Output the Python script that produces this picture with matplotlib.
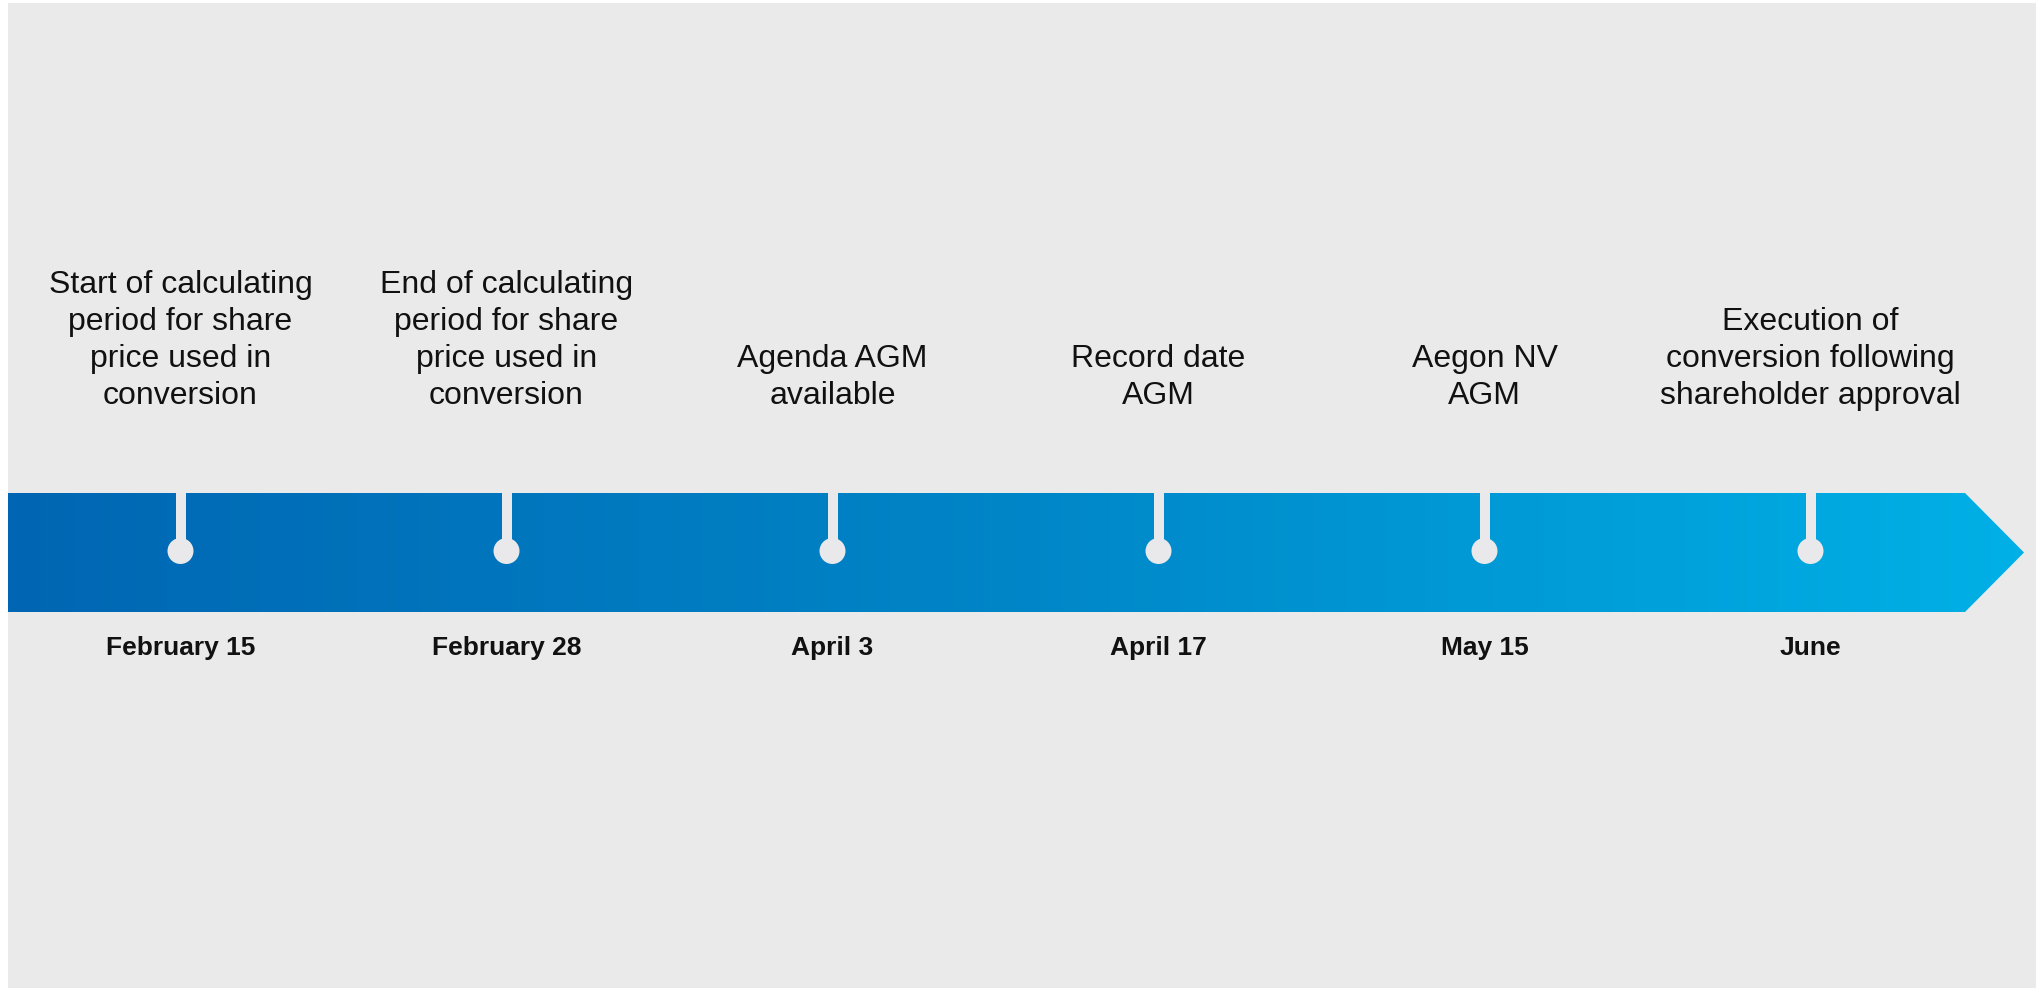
import numpy as np
import matplotlib
matplotlib.use("Agg")
import matplotlib.pyplot as plt
from matplotlib.patches import Polygon, Rectangle
from matplotlib.colors import LinearSegmentedColormap

# ---- data ----
dates = ["February 15", "February 28", "April 3", "April 17", "May 15", "June"]
events = [
    "Start of calculating\nperiod for share\nprice used in\nconversion",
    "End of calculating\nperiod for share\nprice used in\nconversion",
    "Agenda AGM\navailable",
    "Record date\nAGM",
    "Aegon NV\nAGM",
    "Execution of\nconversion following\nshareholder approval",
]
positions = list(range(len(dates)))

W, H = 2036, 988
fig = plt.figure(figsize=(W / 100, H / 100), dpi=100)
fig.patch.set_facecolor("white")
ax = fig.add_axes([0, 0, 1, 1])
# x: event index units (spacing ~326 px, first at ~180.5 px); y: pixel rows
unit = 326.0
x0 = 180.5
ax.set_xlim(-x0 / unit, (W - x0) / unit)
ax.set_ylim(H, 0)
ax.axis("off")

# gray background panel
ax.add_patch(Rectangle((8 / unit - x0 / unit, 3), (W - 8) / unit, H, facecolor="#EAEAEA",
                       edgecolor="none", zorder=0))

# arrow shape
left = (8 - x0) / unit
body_end = (1965 - x0) / unit
tip = (2024 - x0) / unit
top, bot, mid = 493, 612, 552.5
verts = [(left, top), (body_end, top), (tip, mid), (body_end, bot), (left, bot)]
arrow = Polygon(verts, closed=True, facecolor="none", edgecolor="none", zorder=1)
ax.add_patch(arrow)
cmap = LinearSegmentedColormap.from_list("g", ["#0066B3", "#0086C8", "#00B0E6"])
grad = np.linspace(0, 1, 512).reshape(1, -1)
im = ax.imshow(grad, cmap=cmap, aspect="auto", extent=(left, tip, bot, top),
               zorder=2, interpolation="bilinear")
im.set_clip_path(arrow)

stem_color = "#E9E9EC"
for p, d, e in zip(positions, dates, events):
    ax.add_patch(Rectangle((p - 5 / unit, top - 1), 10 / unit, 551 - top,
                           facecolor=stem_color, edgecolor="none", zorder=3))
    ax.scatter([p], [551], s=(26 * 0.72) ** 2, color=stem_color, zorder=4,
               edgecolors="none")
    ax.text(p, 648, d, ha="center", va="center", fontsize=19,
            fontweight="bold", family="Liberation Sans", color="#111111")
    ax.text(p, 411, e, ha="center", va="bottom", fontsize=23,
            family="Liberation Sans", color="#111111", linespacing=1.3)

fig.savefig("out.png", dpi=100, facecolor=fig.get_facecolor())
